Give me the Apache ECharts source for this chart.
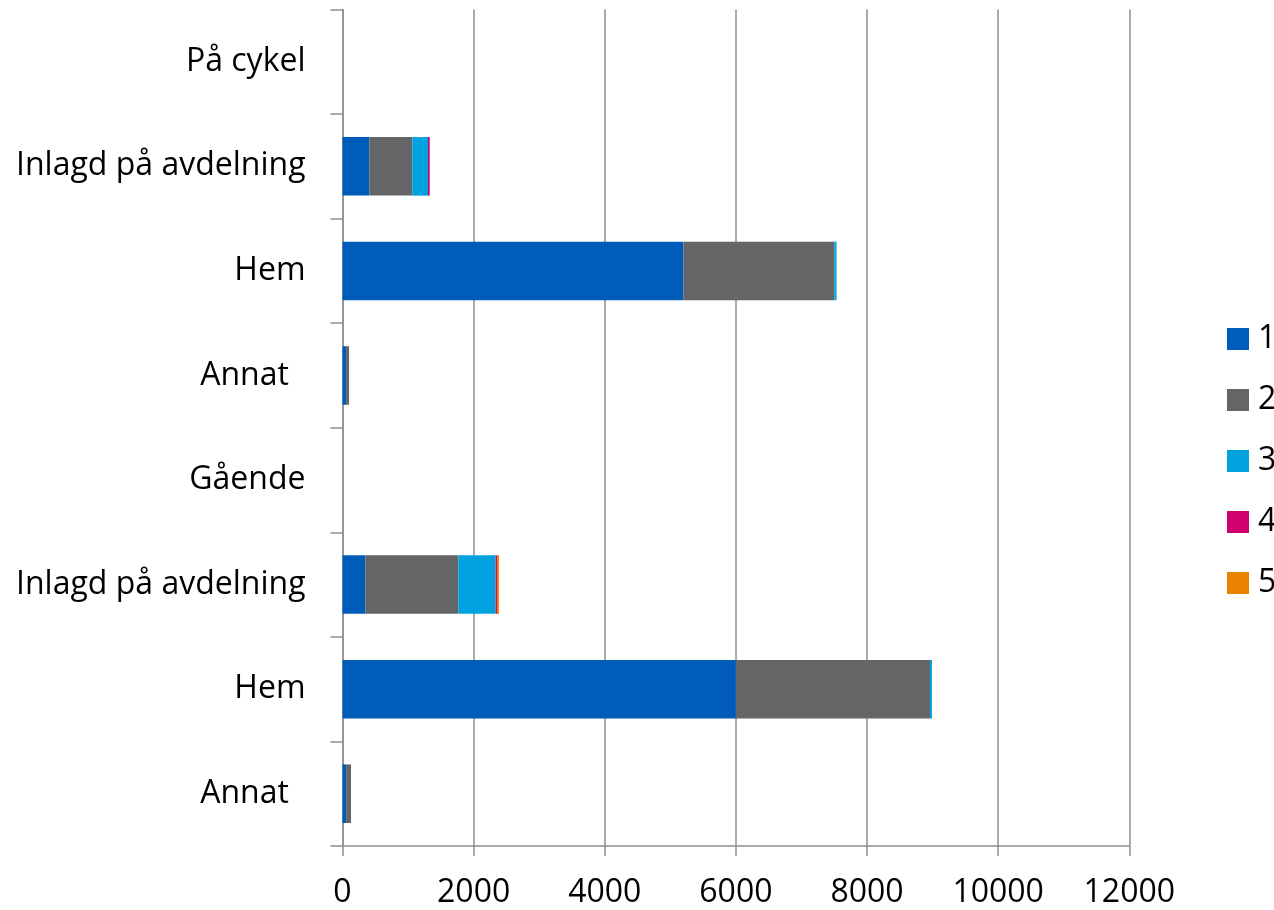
<!DOCTYPE html>
<html>
<head>
<meta charset="utf-8">
<script src="https://cdn.jsdelivr.net/npm/echarts@6/dist/echarts.min.js"></script>
<style>
html,body{margin:0;padding:0;background:#fff;}
#chart{width:1274px;height:910px;}
</style>
</head>
<body>
<div id="chart"></div>
<script>
// Categories listed bottom to top
const categories = ['Annat  ', 'Hem', 'Inlagd på avdelning', 'Gående', 'Annat  ', 'Hem', 'Inlagd på avdelning', 'På cykel'];
const seriesNames = ['1', '2', '3', '4', '5'];
const s1 = [55, 6000, 348, 0, 55, 5200, 409, 0];
const s2 = [75, 2960, 1418, 0, 45, 2300, 656, 0];
const s3 = [0, 30, 570, 0, 0, 35, 239, 0];
const s4 = [0, 0, 20, 0, 0, 0, 26, 0];
const s5 = [0, 0, 30, 0, 0, 0, 0, 0];
const xTicks = [0, 2000, 4000, 6000, 8000, 10000, 12000];
const colors = ['#005CB9', '#646567', '#00A3E0', '#D1006F', '#E98300'];

const values = [s1, s2, s3, s4, s5];
const font = '"Open Sans", Lato, sans-serif';

const chart = echarts.init(document.getElementById('chart'), null, {renderer: 'canvas'});
chart.setOption({
  animation: false,
  color: colors,
  grid: {left: 342.5, right: 144.7, top: 9.5, bottom: 64, containLabel: false},
  legend: {
    orient: 'vertical',
    left: 1222,
    top: 318,
    icon: 'rect',
    itemWidth: 22,
    itemHeight: 22,
    itemGap: 29,
    data: seriesNames,
    textStyle: {fontFamily: font, fontSize: 32, color: '#000', padding: [0, 0, 0, 4]}
  },
  xAxis: {
    type: 'value',
    min: xTicks[0],
    max: xTicks[xTicks.length - 1],
    interval: 2000,
    axisLine: {show: true, lineStyle: {color: '#8f8f8f', width: 1.5}},
    axisTick: {show: true, length: 10, lineStyle: {color: '#8f8f8f', width: 1.5}},
    splitLine: {show: true, lineStyle: {color: '#8f8f8f', width: 1.5}},
    axisLabel: {fontFamily: font, fontSize: 32, color: '#000', margin: 31, formatter: v => String(v)}
  },
  yAxis: {
    type: 'category',
    data: categories,
    axisLine: {show: true, lineStyle: {color: '#8f8f8f', width: 1.5}},
    axisTick: {show: true, length: 12, alignWithLabel: false, lineStyle: {color: '#8f8f8f', width: 1.5}},
    splitLine: {show: false},
    axisLabel: {fontFamily: font, fontSize: 32, color: '#000', margin: 37}
  },
  series: seriesNames.map((name, i) => ({
    name: name,
    type: 'bar',
    stack: 'total',
    data: values[i],
    barCategoryGap: '44%',
    itemStyle: {color: colors[i]}
  }))
});
</script>
</body>
</html>
